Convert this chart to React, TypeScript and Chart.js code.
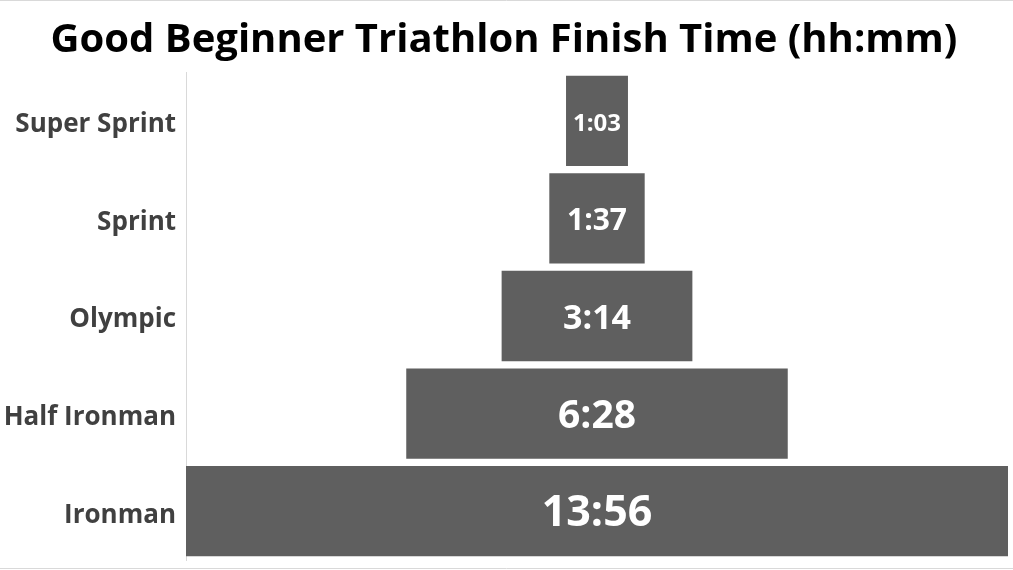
import React, { useEffect, useRef } from "react";
import { Chart, registerables } from "chart.js";

Chart.register(...registerables);

const categories = ["Super Sprint", "Sprint", "Olympic", "Half Ironman", "Ironman"];
// finish times in minutes
const finishMinutes = [63, 97, 194, 388, 836];
const chartTitle = "Good Beginner Triathlon Finish Time (hh:mm)";

// styling only
const LABEL_FONT_SIZES = [24, 30, 34, 39, 43];
const BAR_COLOR = "#5f5f5f";

const fmt = (m: number) => `${Math.floor(m / 60)}:${String(m % 60).padStart(2, "0")}`;

const valueLabels = {
  id: "valueLabels",
  afterDatasetsDraw(chart: any) {
    const ctx = chart.ctx;
    const meta = chart.getDatasetMeta(0);
    ctx.save();
    ctx.fillStyle = "#ffffff";
    ctx.textAlign = "center";
    ctx.textBaseline = "middle";
    meta.data.forEach((el: any, i: number) => {
      const cx = (el.x + el.base) / 2;
      ctx.font = `bold ${LABEL_FONT_SIZES[i]}px "Open Sans"`;
      ctx.fillText(fmt(finishMinutes[i]), cx, el.y + 3);
    });
    ctx.restore();
  },
};

const frameLines = {
  id: "frameLines",
  afterDraw(chart: any) {
    const ctx = chart.ctx;
    ctx.save();
    ctx.strokeStyle = "#d9d9d9";
    ctx.lineWidth = 1;
    ctx.beginPath();
    ctx.moveTo(0, 0.5);
    ctx.lineTo(chart.width, 0.5);
    ctx.moveTo(0, 568.5);
    ctx.lineTo(chart.width, 568.5);
    ctx.stroke();
    ctx.restore();
  },
};

export default function App() {
  const ref = useRef<HTMLCanvasElement>(null);
  useEffect(() => {
    if (!ref.current) return;
    const maxV = Math.max(...finishMinutes);
    const mid = maxV / 2;
    const chart = new Chart(ref.current, {
      type: "bar",
      data: {
        labels: categories,
        datasets: [
          {
            data: finishMinutes.map((v) => [mid - v / 2, mid + v / 2]) as any,
            backgroundColor: BAR_COLOR,
            borderWidth: 0,
            barPercentage: 0.925,
            categoryPercentage: 1,
          },
        ],
      },
      options: {
        indexAxis: "y",
        responsive: false,
        animation: false,
        devicePixelRatio: 1,
        layout: { padding: { top: 0, bottom: 10, right: 5, left: 0 } },
        plugins: {
          legend: { display: false },
          tooltip: { enabled: false },
          title: {
            display: true,
            text: chartTitle,
            color: "#000000",
            font: { family: "Open Sans", weight: "bold", size: 40, lineHeight: 1.2 },
            padding: { top: 17, bottom: 7 },
          },
        },
        scales: {
          x: {
            min: 0,
            max: maxV,
            display: false,
          },
          y: {
            grid: { display: false, drawTicks: false },
            border: { display: true, color: "#d9d9d9", width: 1 },
            ticks: {
              color: "#404040",
              padding: 10,
              labelOffset: 4,
              font: { family: "Open Sans", weight: "bold", size: 26 },
            },
            afterFit: (axis: any) => {
              axis.width = 186;
              axis.paddingTop = 0;
              axis.paddingBottom = 0;
            },
          },
        },
      },
      plugins: [valueLabels, frameLines],
    });
    return () => chart.destroy();
  }, []);
  return (
    <div style={{ position: "fixed", left: 0, top: 0, width: 1013, height: 570, background: "#fff" }}>
      <canvas ref={ref} width={1013} height={570} />
    </div>
  );
}
